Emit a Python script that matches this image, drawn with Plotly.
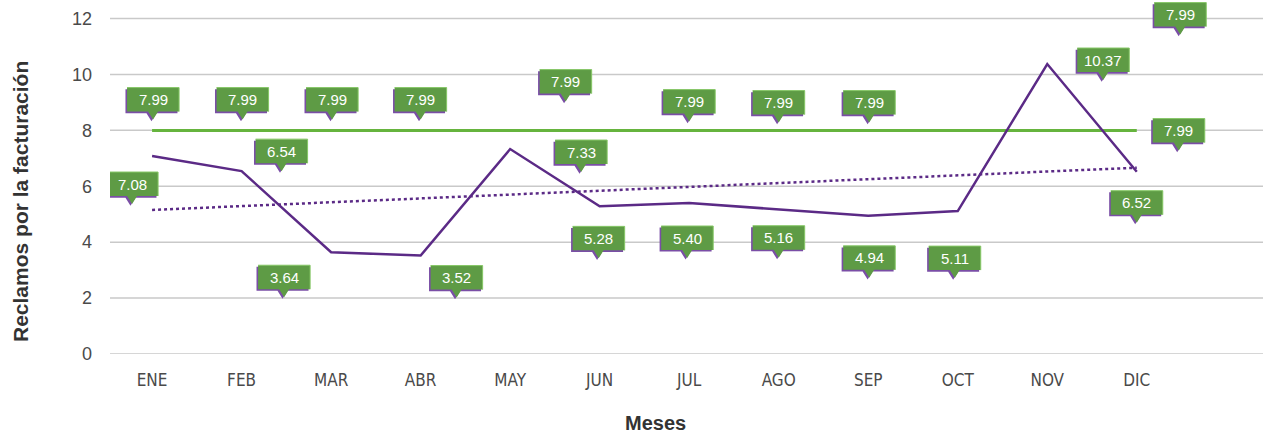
import numpy as np
import plotly.graph_objects as go

# Monthly data
meses = ["ENE", "FEB", "MAR", "ABR", "MAY", "JUN", "JUL", "AGO", "SEP", "OCT", "NOV", "DIC"]
reclamos = [7.08, 6.54, 3.64, 3.52, 7.33, 5.28, 5.40, 5.16, 4.94, 5.11, 10.37, 6.52]
meta = [7.99, 7.99, 7.99, 7.99, 7.99, 7.99, 7.99, 7.99, 7.99, 7.99, 7.99, 7.99]
y_ticks = [0, 2, 4, 6, 8, 10, 12]

# Callout placement: pixel offset (dx right, dy down) of the pointer tip from its point
off_reclamos = [(-20, 48), (40, 0), (-47, 45), (36, 42), (71, 23), (-1, 52),
                (-2, 55), (0, 48), (1, 62), (-3, 67), (56, 16), (0, 51)]
# None = no callout shown for that month
off_meta = [(1, -11), (1, -11), (1, -11), (0, -11), None, (-34, -29),
            (0, -9), (0, -8), (1, -8), None, (133, -96), (42, 20)]

PURPLE = "#5b2a86"
GREEN_LINE = "#66b43e"
BOX = "#5e9b45"
BOX_EDGE = "#86c766"
SHADOW = "#7a4ea6"
GRID = "#c9c9c9"

x_idx = np.arange(len(meses))
slope, intercept = np.polyfit(x_idx, reclamos, 1)
tendencia = intercept + slope * x_idx

fig = go.Figure()

fig.add_trace(go.Scatter(x=meses, y=meta, mode="lines",
                         line=dict(color=GREEN_LINE, width=3), hoverinfo="skip"))
fig.add_trace(go.Scatter(x=meses, y=tendencia, mode="lines",
                         line=dict(color=PURPLE, width=2.5, dash="dot"), hoverinfo="skip"))
fig.add_trace(go.Scatter(x=meses, y=reclamos, mode="lines",
                         line=dict(color=PURPLE, width=2.5), hoverinfo="skip"))

shapes = []
annotations = []

# horizontal gridlines
for t in y_ticks:
    shapes.append(dict(type="line", xref="paper", yref="y", x0=0, x1=1, y0=t, y1=t,
                       line=dict(color=GRID, width=1.5), layer="below"))


def callout_path(tx, ty, sx=0.0, sy=0.0):
    tx += sx
    ty += sy
    pts = [(tx, ty), (tx + 5, ty + 8), (tx + 26, ty + 8), (tx + 26, ty + 32),
           (tx - 26, ty + 32), (tx - 26, ty + 8), (tx - 5, ty + 8)]
    return "M " + " L ".join(f"{a:.1f},{b:.1f}" for a, b in pts) + " Z"


def add_callout(cat, val, off):
    if off is None:
        return
    dx, dy = off
    tx, ty = dx, -dy
    base = dict(type="path", xref="x", yref="y", xsizemode="pixel", ysizemode="pixel",
                xanchor=cat, yanchor=val, layer="above")
    shapes.append(dict(base, path=callout_path(tx, ty, -1.6, -1.6),
                       fillcolor=SHADOW, line=dict(width=0)))
    shapes.append(dict(base, path=callout_path(tx, ty),
                       fillcolor=BOX, line=dict(width=0)))
    shapes.append(dict(base, path=f"M {tx - 26},{ty + 32} L {tx + 26},{ty + 32} L {tx + 26},{ty + 8}",
                       line=dict(color=BOX_EDGE, width=1)))
    annotations.append(dict(x=cat, y=val, xref="x", yref="y", text=f"{val:.2f}",
                            showarrow=False, xshift=tx, yshift=ty + 20,
                            xanchor="center", yanchor="middle",
                            font=dict(family="Liberation Sans, Arial, sans-serif",
                                      size=15, color="white")))


for m, v, o in zip(meses, meta, off_meta):
    add_callout(m, v, o)
for m, v, o in zip(meses, reclamos, off_reclamos):
    add_callout(m, v, o)

# axis titles
annotations.append(dict(xref="paper", yref="paper", x=0, y=0.5, xshift=-90, yshift=-25,
                        xanchor="center", yanchor="middle",
                        text="<b>Reclamos por la facturación</b>", textangle=-90,
                        showarrow=False,
                        font=dict(family="Liberation Sans, Arial, sans-serif", size=21, color="#333")))
annotations.append(dict(xref="paper", yref="paper", x=0.5, y=0, yshift=-69, xshift=-31,
                        xanchor="center", yanchor="middle",
                        text="<b>Meses</b>", showarrow=False,
                        font=dict(family="Liberation Sans, Arial, sans-serif", size=20, color="#333")))

fig.update_layout(
    width=1263, height=434,
    margin=dict(l=110, r=0, t=0, b=80),
    plot_bgcolor="white", paper_bgcolor="white",
    showlegend=False,
    shapes=shapes,
    annotations=annotations,
    xaxis=dict(type="category", categoryorder="array", categoryarray=meses,
               range=[-0.47, 12.41], showgrid=False, zeroline=False, showline=False,
               ticks="", ticklabelstandoff=14,
               tickfont=dict(family="Liberation Sans Narrow, DejaVu Sans Condensed, sans-serif",
                             size=17, color="#4a4a4a")),
    yaxis=dict(range=[0, 12.66], tickvals=y_ticks, showgrid=False, zeroline=False,
               showline=False, ticks="", ticklabelstandoff=17,
               tickfont=dict(family="Liberation Sans, Arial, sans-serif", size=18, color="#4a4a4a")),
)

fig.write_html("out.html")
